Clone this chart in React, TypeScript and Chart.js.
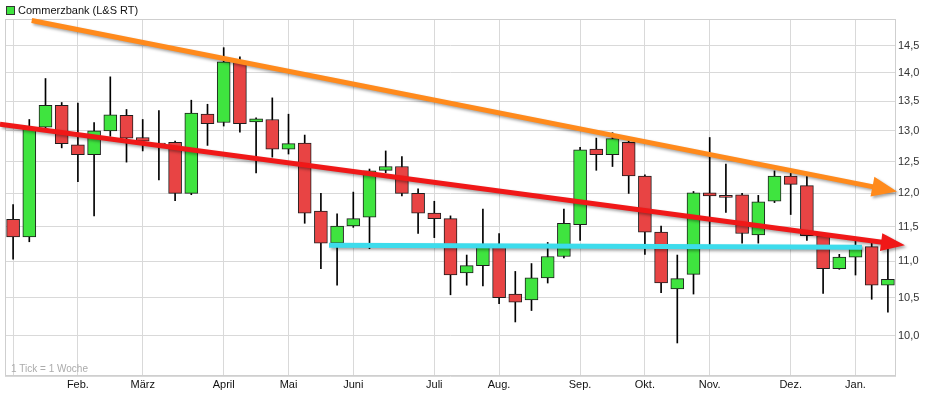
import React, { useEffect, useRef } from 'react';
import { Chart, registerables } from 'chart.js';

Chart.register(...registerables);

// ---- data ----
const seriesName = 'Commerzbank (L&S RT)';
const tickNote = '1 Tick = 1 Woche';

const monthIdx = [0, 4, 8, 13, 17, 21, 26, 30, 35, 39, 43, 48, 52];
const monthNames = ['', 'Feb.', 'März', 'April', 'Mai', 'Juni', 'Juli', 'Aug.', 'Sep.', 'Okt.', 'Nov.', 'Dez.', 'Jan.'];

const opens = [11.61, 11.35, 13.06, 13.43, 12.77, 12.61, 13.0, 13.26, 12.89, 12.8, 12.81, 12.0, 13.28, 13.14, 14.19, 13.15, 13.19, 12.7, 12.8, 11.73, 11.26, 11.51, 11.64, 12.36, 12.42, 12.0, 11.7, 11.62, 10.84, 10.94, 11.22, 10.55, 10.47, 10.77, 11.07, 11.53, 12.7, 12.61, 12.81, 12.27, 11.42, 10.62, 10.82, 12.01, 11.97, 11.98, 11.38, 11.88, 12.27, 12.12, 11.37, 10.9, 11.06, 11.21, 10.67];
const closes = [11.35, 13.05, 13.43, 12.79, 12.61, 13.0, 13.27, 12.88, 12.83, 12.77, 12.0, 13.3, 13.12, 14.2, 13.12, 13.2, 12.7, 12.79, 11.7, 11.26, 11.51, 11.62, 12.35, 12.42, 12.0, 11.7, 11.62, 10.81, 10.94, 11.22, 10.5, 10.44, 10.77, 11.07, 11.55, 12.69, 12.61, 12.87, 12.27, 11.42, 10.7, 10.76, 12.01, 11.96, 11.94, 11.4, 11.87, 12.27, 12.14, 11.37, 10.9, 11.06, 11.21, 10.67, 10.75];
const highs = [11.83, 13.19, 13.9, 13.48, 13.47, 13.14, 13.93, 13.36, 13.19, 13.34, 12.83, 13.52, 13.45, 14.46, 14.29, 13.22, 13.56, 13.28, 12.93, 12.0, 11.69, 12.02, 12.38, 12.67, 12.58, 12.07, 11.88, 11.66, 11.09, 11.76, 11.4, 10.86, 10.97, 11.27, 11.76, 12.73, 12.88, 12.97, 12.84, 12.29, 11.51, 11.09, 12.03, 12.89, 12.46, 12.0, 11.97, 12.35, 12.31, 12.26, 11.41, 11.1, 11.3, 11.26, 11.18];
const lows = [11.03, 11.28, 13.0, 12.72, 12.18, 11.66, 12.91, 12.49, 12.67, 12.21, 11.89, 11.98, 12.76, 13.08, 12.98, 12.32, 12.57, 12.62, 11.55, 10.9, 10.67, 11.49, 11.18, 12.32, 11.96, 11.4, 11.34, 10.54, 10.67, 10.66, 10.42, 10.18, 10.33, 10.7, 11.05, 11.3, 12.36, 12.42, 12.0, 11.1, 10.57, 9.91, 10.55, 11.23, 11.71, 11.26, 11.26, 11.86, 11.68, 11.3, 10.56, 10.89, 10.81, 10.48, 10.31];

const yTicks = [9.5, 10.0, 10.5, 11.0, 11.5, 12.0, 12.5, 13.0, 13.5, 14.0, 14.5, 15.0];

// trend lines: x = week index (fractional), y = price
const trendOrange = [{ x: 1.15, y: 14.97 }, { x: 54.56, y: 12.03 }];
const trendRed = [{ x: -0.81, y: 13.11 }, { x: 55.05, y: 11.23 }];
const trendCyan = [{ x: 19.5, y: 11.23 }, { x: 52.4, y: 11.2 }];

// ---- styles ----
const GREEN = '#3fe43f';
const RED = '#e84444';
const EDGE = '#1e1e1e';
const GRID = '#d9d9d9';
const FONT = 'Arial, "Liberation Sans", sans-serif';

const categories = opens.map((_, i) => {
  const k = monthIdx.indexOf(i);
  return k >= 0 ? monthNames[k] : '';
});

function drawTrend(ctx: CanvasRenderingContext2D, xs: any, ys: any, pts: { x: number; y: number }[], color: string, arrow: boolean, headLen: number, headHalf: number) {
  const x0 = xs.getPixelForValue(pts[0].x);
  const y0 = ys.getPixelForValue(pts[0].y);
  const x1 = xs.getPixelForValue(pts[1].x);
  const y1 = ys.getPixelForValue(pts[1].y);
  const ang = Math.atan2(y1 - y0, x1 - x0);
  ctx.save();
  ctx.shadowColor = 'rgba(0,0,0,0.35)';
  ctx.shadowBlur = 3;
  ctx.shadowOffsetX = 2;
  ctx.shadowOffsetY = 2;
  ctx.strokeStyle = color;
  ctx.fillStyle = color;
  ctx.lineWidth = 5;
  ctx.lineCap = 'butt';
  const ex = arrow ? x1 - Math.cos(ang) * headLen * 0.8 : x1;
  const ey = arrow ? y1 - Math.sin(ang) * headLen * 0.8 : y1;
  ctx.beginPath();
  ctx.moveTo(x0, y0);
  ctx.lineTo(ex, ey);
  ctx.stroke();
  if (arrow) {
    const bx = x1 - Math.cos(ang) * headLen;
    const by = y1 - Math.sin(ang) * headLen;
    const nx = -Math.sin(ang);
    const ny = Math.cos(ang);
    ctx.beginPath();
    ctx.moveTo(x1, y1);
    ctx.lineTo(bx + nx * headHalf, by + ny * headHalf);
    ctx.lineTo(bx - nx * headHalf, by - ny * headHalf);
    ctx.closePath();
    ctx.fill();
  }
  ctx.restore();
}

const overlayPlugin = {
  id: 'overlay',
  beforeDatasetsDraw(chart: any) {
    const { ctx, chartArea: a } = chart;
    ctx.save();
    ctx.strokeStyle = '#cfcfcf';
    ctx.lineWidth = 1;
    ctx.strokeRect(Math.round(a.left) + 0.5, Math.round(a.top) + 0.5, Math.round(a.right - a.left) - 1, Math.round(a.bottom - a.top) - 1);
    ctx.font = '10px ' + FONT;
    ctx.fillStyle = '#ababab';
    ctx.textBaseline = 'middle';
    ctx.textAlign = 'left';
    ctx.fillText(tickNote, a.left + 6, a.bottom - 7);
    ctx.restore();
  },
  afterDatasetsDraw(chart: any) {
    const { ctx } = chart;
    const xs = chart.scales.x;
    const ys = chart.scales.y;
    drawTrend(ctx, xs, ys, trendCyan, '#3ddcec', false, 0, 0);
    drawTrend(ctx, xs, ys, trendRed, '#f01818', true, 24, 9);
    drawTrend(ctx, xs, ys, trendOrange, '#ff8a1c', true, 25, 10);
  },
  afterDraw(chart: any) {
    const { ctx } = chart;
    ctx.save();
    ctx.fillStyle = GREEN;
    ctx.fillRect(7, 7, 7, 7);
    ctx.strokeStyle = '#333';
    ctx.lineWidth = 1;
    ctx.strokeRect(6.5, 6.5, 8, 8);
    ctx.font = '11px ' + FONT;
    ctx.fillStyle = '#111';
    ctx.textBaseline = 'middle';
    ctx.textAlign = 'left';
    ctx.fillText(seriesName, 18, 11);
    ctx.restore();
  },
};

export default function App() {
  const ref = useRef<HTMLCanvasElement | null>(null);
  useEffect(() => {
    if (!ref.current) return;
    const colors = opens.map((o, i) => (closes[i] >= o ? GREEN : RED));
    const chart = new Chart(ref.current, {
      type: 'bar',
      data: {
        labels: categories,
        datasets: [
          {
            label: 'body',
            data: opens.map((o, i) => [o, closes[i]]) as any,
            backgroundColor: colors,
            borderColor: EDGE,
            borderWidth: 1,
            borderSkipped: false,
            barThickness: 13,
            grouped: false,
            order: 0,
          } as any,
          {
            label: 'wick',
            data: lows.map((l, i) => [l, highs[i]]) as any,
            backgroundColor: '#000',
            borderWidth: 0,
            barThickness: 1,
            grouped: false,
            order: 1,
          } as any,
        ],
      },
      options: {
        responsive: false,
        animation: false,
        devicePixelRatio: 1,
        events: [],
        layout: { padding: { left: 5, top: 19, right: 0, bottom: 0 } },
        plugins: { legend: { display: false }, tooltip: { enabled: false } },
        scales: {
          x: {
            type: 'category',
            offset: true,
            grid: { offset: false, color: GRID, drawTicks: false },
            border: { display: false },
            afterBuildTicks: (s: any) => {
              s.ticks = monthIdx.map((v) => ({ value: v }));
            },
            afterFit: (s: any) => {
              s.height = 19;
            },
            ticks: {
              autoSkip: false,
              maxRotation: 0,
              padding: 2,
              color: '#111',
              font: { family: FONT, size: 11 },
              callback: (v: any) => categories[v as number],
            },
          },
          y: {
            type: 'logarithmic',
            position: 'right',
            min: 9.5,
            max: 15,
            grid: { color: GRID, drawTicks: false },
            border: { display: false },
            afterBuildTicks: (s: any) => {
              s.ticks = yTicks.map((v) => ({ value: v }));
            },
            afterFit: (s: any) => {
              s.width = 29;
            },
            ticks: {
              padding: 2,
              color: '#333',
              font: { family: FONT, size: 11 },
              callback: (v: any) => (v < 10 || v > 14.6 ? '' : Number(v).toFixed(1).replace('.', ',')),
            },
          },
        },
      },
      plugins: [overlayPlugin],
    } as any);
    return () => chart.destroy();
  }, []);
  return (
    <div style={{ position: 'fixed', left: 0, top: 0, width: 925, height: 395, background: '#fff' }}>
      <canvas ref={ref} width={925} height={395} style={{ display: 'block' }} />
    </div>
  );
}
